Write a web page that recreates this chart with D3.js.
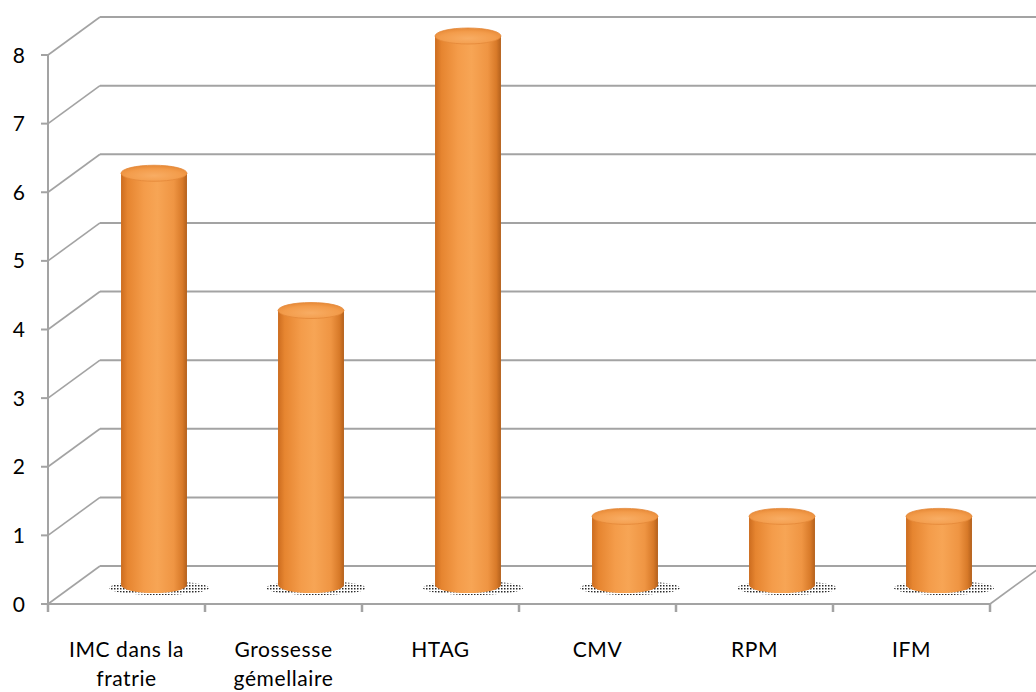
<!DOCTYPE html>
<html>
<head>
<meta charset="utf-8">
<script src="https://cdn.jsdelivr.net/npm/d3@7"></script>
<style>
  html, body { margin: 0; padding: 0; background: #fff; }
  svg { display: block; font-family: Lato, "Open Sans", sans-serif; }
</style>
</head>
<body>
<svg id="chart" width="1036" height="692"></svg>
<script>
// Category names (each entry is a list of label lines) and their values
const categories = ["IMC dans la fratrie", "Grossesse gémellaire", "HTAG", "CMV", "RPM", "IFM"];
const categoryLines = [["IMC dans la", "fratrie"], ["Grossesse", "gémellaire"], ["HTAG"], ["CMV"], ["RPM"], ["IFM"]];
const values = [6, 4, 8, 1, 1, 1];
const yTicks = [0, 1, 2, 3, 4, 5, 6, 7, 8];

const svg = d3.select("#chart");
const W = 1036;

// Front plane of the 3D box and the depth offset of the back wall
const front = { left: 48, right: 990, bottom: 604, top: 55 };
const depth = { dx: 52, dy: -38 };

const y = d3.scaleLinear().domain([0, 8]).range([front.bottom, front.top]);
const x = d3.scaleBand().domain(categories).range([front.left, front.right]).padding(0);

const defs = svg.append("defs");

// Cylinder body shading
const bodyGrad = defs.append("linearGradient").attr("id", "body").attr("x1", "0").attr("x2", "1").attr("y1", "0").attr("y2", "0");
[["0%", "#cc6c1f"], ["10%", "#e68530"], ["35%", "#f49c4a"], ["55%", "#f7a555"], ["80%", "#ef9543"], ["93%", "#d87a29"], ["100%", "#b3601c"]]
  .forEach(([o, c]) => bodyGrad.append("stop").attr("offset", o).attr("stop-color", c));

// Cylinder top cap shading
const topGrad = defs.append("radialGradient").attr("id", "cap").attr("cx", "50%").attr("cy", "65%").attr("r", "60%");
[["0%", "#f8ad64"], ["70%", "#f39c4b"], ["100%", "#e98d3b"]]
  .forEach(([o, c]) => topGrad.append("stop").attr("offset", o).attr("stop-color", c));

// Dotted floor shadow
const dots = defs.append("pattern").attr("id", "dots").attr("width", 3).attr("height", 3).attr("patternUnits", "userSpaceOnUse");
dots.append("rect").attr("width", 1.5).attr("height", 1.5).attr("fill", "#111");

const gridColor = "#a3a3a3";

// Back wall gridlines
svg.append("g").selectAll("line").data(yTicks).join("line")
  .attr("x1", front.left + depth.dx).attr("x2", W)
  .attr("y1", d => y(d) + depth.dy).attr("y2", d => y(d) + depth.dy)
  .attr("stroke", gridColor).attr("stroke-width", 2);

// Side wall diagonals
svg.append("g").selectAll("line").data(yTicks).join("line")
  .attr("x1", front.left).attr("x2", front.left + depth.dx)
  .attr("y1", d => y(d)).attr("y2", d => y(d) + depth.dy)
  .attr("stroke", gridColor).attr("stroke-width", 1.6);

// Floor right edge
svg.append("line")
  .attr("x1", front.right).attr("y1", front.bottom)
  .attr("x2", front.right + depth.dx).attr("y2", front.bottom + depth.dy)
  .attr("stroke", gridColor).attr("stroke-width", 1.6);

// Front vertical axis with ticks
svg.append("line")
  .attr("x1", front.left).attr("x2", front.left)
  .attr("y1", y(0)).attr("y2", y(8))
  .attr("stroke", gridColor).attr("stroke-width", 2);
svg.append("g").selectAll("line").data(yTicks).join("line")
  .attr("x1", front.left - 7).attr("x2", front.left)
  .attr("y1", d => y(d)).attr("y2", d => y(d))
  .attr("stroke", gridColor).attr("stroke-width", 2);

svg.append("g").selectAll("text").data(yTicks).join("text")
  .attr("x", 25).attr("y", d => y(d)).attr("dy", "0.36em")
  .attr("text-anchor", "end").attr("font-size", 21).attr("fill", "#000")
  .text(d => d);

// Floor front edge with category ticks
svg.append("line")
  .attr("x1", front.left).attr("x2", front.right)
  .attr("y1", front.bottom).attr("y2", front.bottom)
  .attr("stroke", gridColor).attr("stroke-width", 2);
const bounds = categories.map(c => x(c)).concat([front.right]);
svg.append("g").selectAll("line").data(bounds).join("line")
  .attr("x1", d => d).attr("x2", d => d)
  .attr("y1", front.bottom).attr("y2", front.bottom + 8)
  .attr("stroke", gridColor).attr("stroke-width", 2.5);

// Cylinders, set halfway into the depth of the box
const cylW = x.bandwidth() * 0.42;
const rx = cylW / 2, ry = 8;
const mid = { dx: depth.dx / 2 + 1.5, dy: depth.dy / 2 };

const bars = svg.append("g").selectAll("g").data(categories).join("g");
bars.each(function (c, i) {
  const g = d3.select(this);
  const cx = x(c) + x.bandwidth() / 2 + mid.dx;
  const yb = y(0) + mid.dy;
  const yt = y(values[i]) + mid.dy;

  g.append("ellipse")
    .attr("cx", cx + 5).attr("cy", yb + 3)
    .attr("rx", rx + 17).attr("ry", ry - 1)
    .attr("fill", "url(#dots)").attr("opacity", 0.9);

  g.append("path")
    .attr("d", `M${cx - rx},${yt} L${cx - rx},${yb} A${rx},${ry} 0 0 0 ${cx + rx},${yb} L${cx + rx},${yt} Z`)
    .attr("fill", "url(#body)");

  g.append("ellipse")
    .attr("cx", cx).attr("cy", yt)
    .attr("rx", rx).attr("ry", ry)
    .attr("fill", "url(#cap)")
    .attr("stroke", "#e38838").attr("stroke-width", 0.8);
});

// Category labels
const labels = svg.append("g").selectAll("text").data(categories).join("text")
  .attr("text-anchor", "middle").attr("font-size", 21).attr("letter-spacing", "0.6px").attr("fill", "#000");
labels.each(function (c, i) {
  const t = d3.select(this);
  categoryLines[i].forEach((line, k) => {
    t.append("tspan")
      .attr("x", x(c) + x.bandwidth() / 2)
      .attr("y", 657 + k * 29)
      .text(line);
  });
});
</script>
</body>
</html>
